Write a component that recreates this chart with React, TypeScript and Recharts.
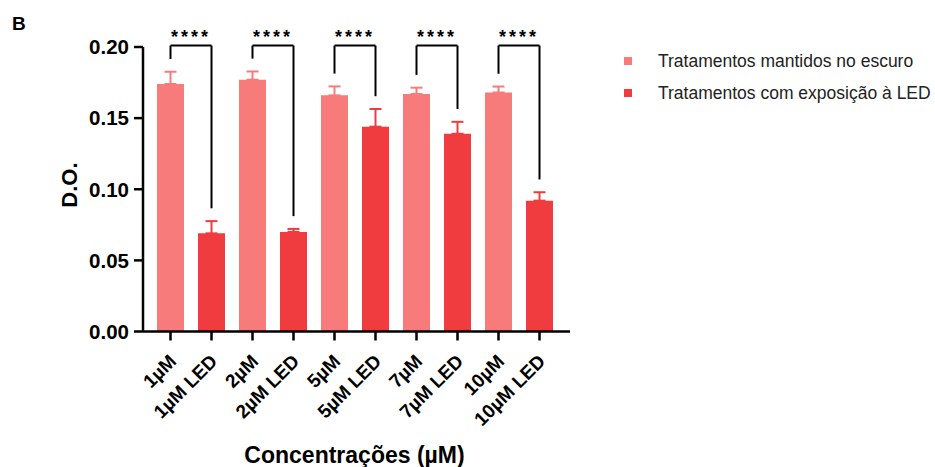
import { Bar, BarChart, ErrorBar, Label, Legend, ReferenceLine, XAxis, YAxis } from "recharts";

const FONT = '"Liberation Sans", Arial, sans-serif';

// Absorbance readings (mean and SD) per concentration
const CATEGORIES = ["1µM", "1µM LED", "2µM", "2µM LED", "5µM", "5µM LED", "7µM", "7µM LED", "10µM", "10µM LED"];
const MEANS = [0.174, 0.069, 0.177, 0.07, 0.166, 0.144, 0.167, 0.139, 0.168, 0.092];
const SDS = [0.0086, 0.0086, 0.0058, 0.0021, 0.0063, 0.0124, 0.0044, 0.0084, 0.0042, 0.0059];
const LED_EXPOSED = [false, true, false, true, false, true, false, true, false, true];

const SERIES_NAMES = ["Tratamentos mantidos no escuro", "Tratamentos com exposição à LED"];
const COLORS = { dark: "#F87B7B", led: "#F03C3E" };

// Pairwise comparisons drawn as brackets above the bars
const COMPARISONS: [string, string][] = [
  ["1µM", "1µM LED"],
  ["2µM", "2µM LED"],
  ["5µM", "5µM LED"],
  ["7µM", "7µM LED"],
  ["10µM", "10µM LED"],
];
const SIGNIFICANCE = ["****", "****", "****", "****", "****"];

const Y_TICKS = [0, 0.05, 0.1, 0.15, 0.2];
const BRACKET_TOP = 0.201;
const BRACKET_GAP = 0.009;

const rows = CATEGORIES.map((name, i) => ({
  name,
  dark: LED_EXPOSED[i] ? null : MEANS[i],
  led: LED_EXPOSED[i] ? MEANS[i] : null,
  sd: SDS[i],
}));

const errTop = (name: string) => {
  const i = CATEGORIES.indexOf(name);
  return MEANS[i] + SDS[i];
};

const CategoryTick = ({ x, y, payload }: any) => (
  <g transform={`translate(${x + 7},${y + 20})`}>
    <text
      transform="rotate(-45)"
      textAnchor="end"
      fontSize={19}
      fontWeight="bold"
      fontFamily={FONT}
      fill="#000"
    >
      {payload.value}
    </text>
  </g>
);

// keep the legend in series order
const LegendList = ({ payload }: any) => {
  const items = [...(payload || [])].sort(
    (a: any, b: any) => SERIES_NAMES.indexOf(a.value) - SERIES_NAMES.indexOf(b.value)
  );
  return (
    <div style={{ fontFamily: FONT, fontSize: 17.5, color: "#222" }}>
      {items.map((entry: any) => (
        <div key={entry.value} style={{ display: "flex", alignItems: "center", height: 32 }}>
          <span style={{ width: 8, height: 8, background: entry.color, marginRight: 26 }} />
          {entry.value}
        </div>
      ))}
    </div>
  );
};

const axisStroke = { stroke: "#000", strokeWidth: 2.5 };

export default function App() {
  return (
    <div style={{ position: "absolute", left: 0, top: 0, width: 935, height: 467, background: "#fff" }}>
      <div
        style={{
          position: "absolute",
          left: 12,
          top: 14,
          fontFamily: FONT,
          fontWeight: "bold",
          fontSize: 19,
          lineHeight: "19px",
        }}
      >
        B
      </div>
      <BarChart
        width={935}
        height={467}
        data={rows}
        margin={{ top: 47, right: 365, bottom: 45.5, left: 83 }}
        style={{ position: "absolute", left: 0, top: 0 }}
      >
        <XAxis
          xAxisId="dark"
          dataKey="name"
          height={90}
          interval={0}
          padding={{ left: 7, right: 10 }}
          tick={<CategoryTick />}
          tickSize={9}
          axisLine={axisStroke}
          tickLine={axisStroke}
        >
          <Label
            content={({ viewBox }: any) => (
              <text
                x={viewBox.x + viewBox.width / 2 - 2}
                y={463}
                textAnchor="middle"
                fontSize={23}
                fontWeight="bold"
                fontFamily={FONT}
                fill="#000"
              >
                Concentrações (µM)
              </text>
            )}
          />
        </XAxis>
        <XAxis xAxisId="led" dataKey="name" hide padding={{ left: 7, right: 10 }} />
        <YAxis
          width={60}
          domain={[0, 0.2]}
          ticks={Y_TICKS}
          tickFormatter={(v: number) => v.toFixed(2)}
          tick={{ fontSize: 20.5, fontWeight: "bold", fill: "#000", fontFamily: FONT }}
          tickSize={9}
          tickMargin={5}
          axisLine={axisStroke}
          tickLine={axisStroke}
        >
          <Label
            content={() => (
              <text
                x={77}
                y={185}
                transform="rotate(-90, 77, 185)"
                textAnchor="middle"
                fontSize={22}
                fontWeight="bold"
                fontFamily={FONT}
                fill="#000"
              >
                D.O.
              </text>
            )}
          />
        </YAxis>
        <Legend
          layout="vertical"
          align="center"
          verticalAlign="middle"
          content={<LegendList />}
          wrapperStyle={{ left: 624, top: 45, width: 310 }}
        />
        <Bar
          xAxisId="dark"
          dataKey="dark"
          name={SERIES_NAMES[0]}
          fill={COLORS.dark}
          barSize={27}
          isAnimationActive={false}
        >
          <ErrorBar
            dataKey={(d: any) => (d.dark == null ? null : [0, d.sd])}
            width={6}
            stroke={COLORS.dark}
            strokeWidth={2}
            isAnimationActive={false}
          />
        </Bar>
        <Bar
          xAxisId="led"
          dataKey="led"
          name={SERIES_NAMES[1]}
          fill={COLORS.led}
          barSize={27}
          isAnimationActive={false}
        >
          <ErrorBar
            dataKey={(d: any) => (d.led == null ? null : [0, d.sd])}
            width={6}
            stroke={COLORS.led}
            strokeWidth={2}
            isAnimationActive={false}
          />
        </Bar>
        {COMPARISONS.map(([a, b], i) => [
          <ReferenceLine
            key={`l${i}`}
            xAxisId="dark"
            ifOverflow="visible"
            stroke="#000"
            strokeWidth={2}
            segment={[
              { x: a, y: errTop(a) + BRACKET_GAP },
              { x: a, y: BRACKET_TOP },
            ]}
          />,
          <ReferenceLine
            key={`t${i}`}
            xAxisId="dark"
            ifOverflow="visible"
            stroke="#000"
            strokeWidth={2}
            segment={[
              { x: a, y: BRACKET_TOP },
              { x: b, y: BRACKET_TOP },
            ]}
            label={{
              value: SIGNIFICANCE[i],
              position: "top",
              offset: 3,
              fontSize: 18,
              fontWeight: "bold",
              fill: "#000",
              letterSpacing: 3,
              fontFamily: FONT,
            }}
          />,
          <ReferenceLine
            key={`r${i}`}
            xAxisId="dark"
            ifOverflow="visible"
            stroke="#000"
            strokeWidth={2}
            segment={[
              { x: b, y: BRACKET_TOP },
              { x: b, y: errTop(b) + BRACKET_GAP },
            ]}
          />,
        ])}
      </BarChart>
    </div>
  );
}
